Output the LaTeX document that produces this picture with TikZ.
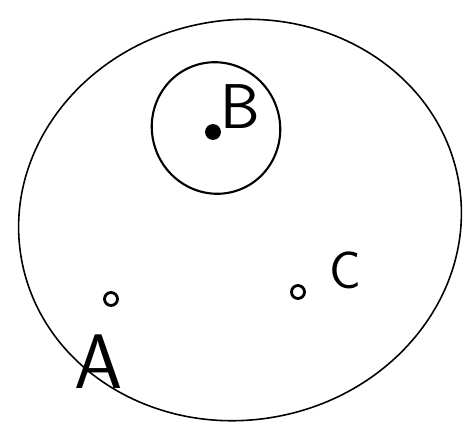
\documentclass[tikz,border=0pt]{standalone}
\usepackage{tikz}
\usetikzlibrary{positioning,shapes.geometric}

\begin{document}
\begin{tikzpicture}[
    region/.style={ellipse, draw, line width=0.9pt, inner sep=0pt},
    pnt/.style={circle, draw, line width=1.6pt, inner sep=0pt, minimum size=0.26cm},
    lbl/.style={font=\fontsize{36}{36}\selectfont\sffamily}]

\useasboundingbox (0,0) rectangle (9.28,8.54);

% Regions
\node[region, minimum width=8.88cm, minimum height=8.0cm, rotate=10] (outer) at (4.8,4.14) {};
\node[region, line width=1.2pt, minimum width=2.56cm, minimum height=2.64cm, rotate=20] (inner) at (4.32,5.98) {};

% Points
\node[pnt, fill=black] (b) at (4.26,5.9) {};
\node[pnt] (a) at (2.22,2.56) {};
\node[pnt] (c) at (5.96,2.7) {};

% Labels
\node[lbl] (bl) at (4.8,6.4) {B};
\node[lbl, font=\fontsize{44}{44}\selectfont\sffamily] (al) at (1.98,1.3) {A};
\node[lbl, font=\fontsize{30}{30}\selectfont\sffamily] (cl) at (6.9,3.14) {C};
\end{tikzpicture}
\end{document}
